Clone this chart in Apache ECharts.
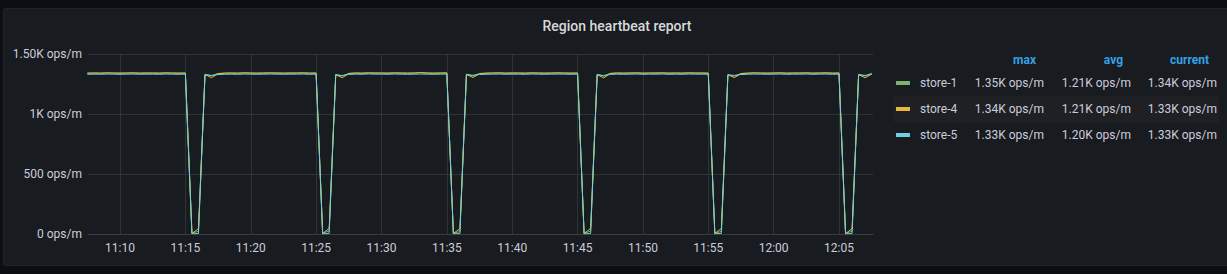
<!DOCTYPE html>
<html>
<head>
<meta charset="utf-8">
<script src="https://cdn.jsdelivr.net/npm/echarts@6/dist/echarts.min.js"></script>
<style>
  html, body { margin: 0; padding: 0; background: #0d0e11; width: 1227px; height: 274px; overflow: hidden; }
  #panel { position: absolute; left: 3px; top: 8px; width: 1230px; height: 256px; background: #181b1f; border: 1px solid #202226; border-radius: 2px; }
  #chart { position: absolute; left: 0; top: 0; width: 1227px; height: 274px; }
</style>
</head>
<body>
<div id="panel"></div>
<div id="chart"></div>
<script>
// ---- data (30 s samples from 11:07:30 to 12:07:30) ----
const startTime = [11, 7, 30];
const stepSeconds = 30;

const store1 = [
  1341,1342,1341,1343,1342,1341,1342,1343,1341,1342,1342,1341,1343,1342,1341,1342,
  8,22,1332,1318,
  1338,1341,1342,1341,1343,1342,1341,1342,1343,1342,1341,1342,1342,1343,1341,1342,
  6,25,1330,1316,
  1339,1342,1341,1343,1342,1342,1341,1343,1342,1341,1342,1346,1342,1341,1342,1343,
  7,20,1333,1317,
  1338,1341,1342,1343,1341,1342,1342,1341,1343,1342,1341,1342,1343,1342,1341,1342,
  5,24,1331,1315,
  1339,1342,1341,1342,1343,1341,1342,1342,1343,1341,1342,1341,1343,1342,1342,1341,
  8,21,1329,1314,
  1338,1341,1343,1342,1341,1342,1343,1341,1342,1342,1343,1341,1342,1343,1341,1342,
  6,23,1332,1316,1340
];
const store4 = [
  1340,1341,1340,1342,1341,1340,1341,1342,1340,1341,1341,1340,1342,1341,1340,1341,
  4,45,1328,1303,
  1336,1340,1341,1340,1342,1341,1340,1341,1342,1341,1340,1341,1341,1342,1340,1341,
  3,48,1327,1302,
  1337,1341,1340,1342,1341,1341,1340,1342,1341,1340,1341,1344,1341,1340,1341,1342,
  5,44,1329,1304,
  1336,1340,1341,1342,1340,1341,1341,1340,1342,1341,1340,1341,1342,1341,1340,1341,
  4,47,1328,1301,
  1337,1341,1340,1341,1342,1340,1341,1341,1342,1340,1341,1340,1342,1341,1341,1340,
  5,46,1327,1303,
  1336,1340,1342,1341,1340,1341,1342,1340,1341,1341,1342,1340,1341,1342,1340,1341,
  4,45,1328,1302,1333
];
const store5 = [
  1331,1332,1331,1333,1332,1331,1332,1333,1331,1332,1332,1331,1333,1332,1331,1332,
  2,4,1326,1322,
  1329,1331,1332,1331,1333,1332,1331,1332,1333,1332,1331,1332,1332,1333,1331,1332,
  1,5,1325,1321,
  1330,1332,1331,1334,1332,1332,1331,1333,1332,1331,1332,1333,1332,1331,1332,1333,
  2,3,1327,1323,
  1329,1331,1332,1333,1331,1332,1332,1331,1333,1332,1331,1332,1333,1332,1331,1332,
  1,4,1326,1321,
  1330,1332,1331,1332,1333,1331,1332,1332,1333,1331,1332,1331,1333,1332,1332,1331,
  2,5,1325,1322,
  1329,1331,1333,1332,1331,1332,1333,1331,1332,1332,1333,1331,1332,1333,1331,1332,
  1,4,1326,1322,1331
];

const seriesNames = ['store-1', 'store-4', 'store-5'];
const seriesColors = ['#7EB26D', '#EAB839', '#6ED0E0'];
const xTickLabels = ['11:10', '11:15', '11:20', '11:25', '11:30', '11:35', '11:40', '11:45', '11:50', '11:55', '12:00', '12:05'];
const yTickValues = [0, 500, 1000, 1500];
const yTickLabels = ['0 ops/m', '500 ops/m', '1K ops/m', '1.50K ops/m'];
const legendHeaders = ['max', 'avg', 'current'];
const legendMax = ['1.35K ops/m', '1.34K ops/m', '1.33K ops/m'];
const legendAvg = ['1.21K ops/m', '1.21K ops/m', '1.20K ops/m'];
const legendCurrent = ['1.34K ops/m', '1.33K ops/m', '1.33K ops/m'];
const titleText = 'Region heartbeat report';

// ---- build ----
// x values: seconds since midnight
function toSec(hm) { const p = hm.split(':').map(Number); return p[0] * 3600 + p[1] * 60; }
const t0 = startTime[0] * 3600 + startTime[1] * 60 + startTime[2];
function pairs(arr) { return arr.map((v, i) => [t0 + i * stepSeconds, v]); }
const allValues = [store1, store4, store5];
const xTickSecs = xTickLabels.map(toSec);

const chart = echarts.init(document.getElementById('chart'), null, { renderer: 'svg' });
const FONT = 'Roboto, "Noto Sans", sans-serif';
const textColor = '#ccccdc';

const graphics = [];
const colRight = [1044, 1131, 1217];
legendHeaders.forEach((h, c) => {
  graphics.push({ type: 'text', x: colRight[c] - 8, y: 60, style: { text: h, fill: '#33a2e5', font: 'bold 12px ' + FONT, textAlign: 'right', textVerticalAlign: 'middle' } });
});
const rowY = [83, 109, 135];
graphics.push({ type: 'rect', shape: { x: 894, y: 96, width: 325, height: 26 }, style: { fill: '#1e2024' }, z: -1 });
seriesNames.forEach((n, r) => {
  graphics.push({ type: 'rect', shape: { x: 896, y: rowY[r] - 2, width: 14, height: 4 }, style: { fill: seriesColors[r] } });
  graphics.push({ type: 'text', x: 920, y: rowY[r], style: { text: n, fill: textColor, font: '12px ' + FONT, textAlign: 'left', textVerticalAlign: 'middle' } });
  [legendMax, legendAvg, legendCurrent].forEach((col, c) => {
    graphics.push({ type: 'text', x: colRight[c], y: rowY[r], style: { text: col[r], fill: textColor, font: '12px ' + FONT, textAlign: 'right', textVerticalAlign: 'middle' } });
  });
});

chart.setOption({
  animation: false,
  backgroundColor: 'transparent',
  title: {
    text: titleText, left: 612, top: 14, textAlign: 'center',
    textStyle: { color: '#d8d9da', fontSize: 14, fontWeight: 500, fontFamily: FONT }
  },
  grid: { left: 88, right: 354, top: 54, bottom: 40, containLabel: false },
  xAxis: {
    type: 'value',
    min: t0 + 3,
    max: t0 + 3600 + 6,
    axisLine: { show: true, lineStyle: { color: '#3b3d42' } },
    axisTick: { show: false, customValues: xTickSecs },
    splitLine: { show: true, lineStyle: { color: '#303236', width: 1 } },
    axisLabel: {
      color: textColor, fontSize: 12, fontFamily: FONT, margin: 8,
      customValues: xTickSecs,
      formatter: function (v) { const i = xTickSecs.indexOf(v); return i >= 0 ? xTickLabels[i] : ''; }
    }
  },
  yAxis: {
    type: 'value', min: yTickValues[0], max: yTickValues[yTickValues.length - 1], interval: yTickValues[1] - yTickValues[0],
    axisLine: { show: false }, axisTick: { show: false },
    splitLine: { show: true, lineStyle: { color: '#303236', width: 1 } },
    axisLabel: {
      color: textColor, fontSize: 12, fontFamily: FONT, margin: 6,
      formatter: function (v) { const i = yTickValues.indexOf(v); return i >= 0 ? yTickLabels[i] : ''; }
    }
  },
  graphic: graphics,
  series: seriesNames.map((n, i) => ({
    name: n, type: 'line', data: pairs(allValues[i]), showSymbol: false, symbol: 'none',
    lineStyle: { color: seriesColors[i], width: 1 }, itemStyle: { color: seriesColors[i] },
    clip: true
  }))
});
</script>
</body>
</html>
